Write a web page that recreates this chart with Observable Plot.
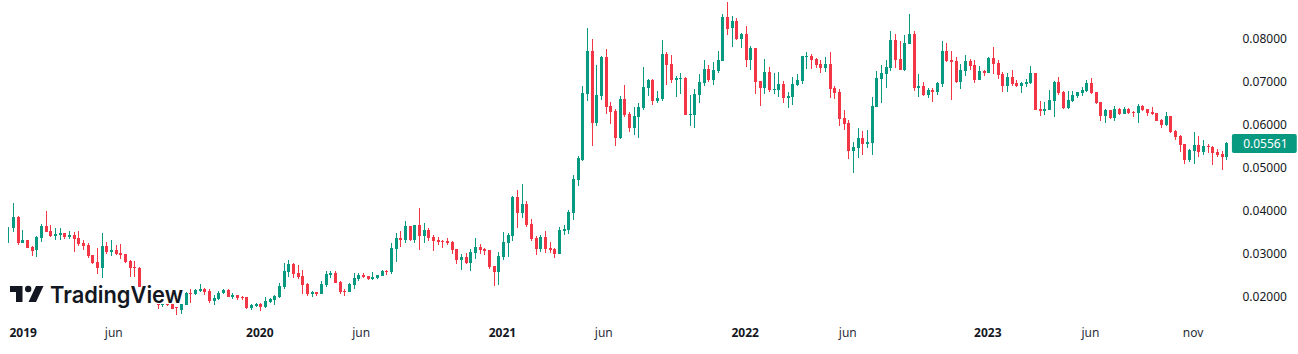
<!DOCTYPE html>
<html>
<head>
<meta charset="utf-8">
<style>html,body{margin:0;padding:0;background:#fff}svg{display:block}</style>
<script src="https://cdn.jsdelivr.net/npm/d3@7"></script>
<script src="https://cdn.jsdelivr.net/npm/@observablehq/plot@0.6"></script>
</head>
<body>
<div id="chart"></div>
<script>
// Weekly candles, prices in units of 0.00001
const openE5 = [
3419,3581,3837,3233,3302,3140,3070,3349,3628,3512,
3395,3419,3465,3372,3419,3349,3233,3186,2954,2791,
2651,3163,3023,3070,3000,2977,2814,2675,2651,2140,
2024,1977,1907,1791,1838,1814,1745,1675,1791,2070,
2047,2117,2163,2117,1884,1931,2070,2140,1977,2024,
1977,1977,1721,1768,1814,1745,1861,1907,1977,2210,
2558,2744,2535,2465,2279,2047,2093,2047,2256,2489,
2535,2326,2117,2093,2256,2396,2489,2465,2396,2419,
2465,2582,2558,3093,3349,3302,3628,3302,3651,3395,
3535,3372,3302,3279,3279,3256,3093,2837,2907,2768,
3000,3140,3093,3070,2698,2558,2907,3233,3395,4302,
3930,4139,3674,3349,3093,3372,3116,3093,2977,3512,
3535,3930,4698,5163,6698,7698,6023,6651,7558,6419,
6302,5674,6581,6233,5907,6163,6372,6837,7023,6535,
6581,7628,7395,7023,7047,7070,6209,6209,6674,6953,
7279,7023,7233,7465,8488,8233,8395,7977,8093,7488,
7767,7000,6837,7209,6791,6791,6930,6605,6628,6907,
7000,7558,7581,7512,7395,7302,7395,6837,6744,6140,
6023,5372,5442,5674,5535,5558,6395,7047,7163,7302,
7953,7512,7256,7860,8093,6837,6884,6674,6791,6744,
6930,7698,7488,7465,6977,7233,7465,7372,7023,7233,
7186,7535,7419,7163,6884,7093,6953,6884,6930,6953,
7186,6349,6302,6326,6535,6977,6744,6372,6535,6651,
6721,6767,6953,6744,6512,6186,6326,6140,6349,6233,
6349,6279,6256,6419,6349,6279,6256,6093,5977,6186,
5837,5721,5535,5163,5372,5512,5349,5488,5465,5349,
5302,5233];
const highE5 = [
3605,4163,3860,3535,3302,3163,3395,3674,3977,3651,
3581,3581,3465,3512,3488,3512,3302,3233,2954,3116,
3465,3256,3302,3186,3209,2977,2837,2814,2675,2163,
2093,2186,1954,1861,1861,1814,1745,1838,2093,2163,
2163,2279,2186,2163,2024,2117,2163,2163,2070,2024,
2000,1977,1814,1838,1838,1977,1954,2024,2303,2768,
2837,2768,2721,2605,2303,2117,2093,2349,2582,2582,
2582,2349,2163,2303,2535,2535,2535,2465,2558,2489,
2605,2605,3233,3465,3512,3744,3628,3651,4046,3698,
3581,3419,3372,3302,3349,3279,3093,2977,3000,3093,
3349,3209,3116,3070,2698,3023,3488,3465,4325,4465,
4605,4209,3791,3395,3419,3512,3256,3116,3605,3651,
4000,4814,5256,6884,8233,7977,7372,7581,7744,6512,
6349,6651,6907,6279,6395,6488,7326,7047,7047,6767,
7953,7674,7605,7116,7186,7093,6674,6814,7163,7488,
7372,7442,7698,8558,8837,8512,8465,8116,8279,7814,
7767,7000,7512,7326,7186,7209,7000,6744,7093,7163,
7581,7674,7628,7535,7488,7558,7674,6884,6814,6326,
6093,5581,5907,5837,5860,6628,7233,7372,7488,8163,
8093,7930,8070,8558,8163,7163,6977,6837,6837,6977,
7930,7884,7698,7558,7395,7605,7512,7488,7349,7256,
7558,7791,7488,7209,7186,7256,7023,6977,7047,7349,
7186,6535,6512,6791,7000,7093,6767,6767,6767,6744,
6860,7023,7070,6744,6512,6349,6326,6419,6372,6395,
6372,6302,6465,6442,6349,6395,6256,6116,6279,6186,
5860,5744,5535,5419,5814,5721,5628,5535,5488,5419,
5372,5581];
const lowE5 = [
3233,3488,3186,3233,3116,2930,2907,3256,3488,3372,
3302,3302,3326,3326,3023,3163,3070,2884,2744,2512,
2419,2977,2930,2954,2861,2768,2442,2442,2070,1954,
1907,1861,1698,1745,1768,1698,1559,1582,1791,1838,
2024,2093,2024,1838,1791,1907,2047,1977,1931,1907,
1907,1698,1675,1745,1652,1721,1838,1791,1954,2163,
2442,2419,2396,2047,2000,1977,2000,2047,2210,2419,
2303,2047,2000,2093,2163,2349,2419,2372,2372,2396,
2465,2489,2512,2791,3140,3233,3279,3233,3070,3233,
3279,3047,3186,3116,3186,2977,2744,2605,2744,2582,
2861,2977,2954,2628,2233,2256,2837,2907,3279,3581,
3814,3605,3279,2954,3023,3000,3000,2884,2977,3419,
3442,3767,4558,5140,6535,5488,5953,6558,6233,6000,
5488,5651,6163,5814,5744,5674,6326,6651,6442,6488,
6535,6907,6953,6628,6698,6209,5953,5907,6488,6884,
6977,6907,7186,7465,8070,7791,7953,7767,7326,7256,
6698,6419,6698,6744,6698,6628,6488,6372,6442,6884,
6930,7279,7279,7302,7186,7209,6605,6581,5953,5860,
5186,4860,5209,5279,5442,5279,6395,6488,6837,7233,
7302,7256,7233,7860,6767,6628,6651,6605,6512,6674,
6860,7442,6558,6953,6814,7116,7256,6953,7023,7116,
7186,7163,7047,6744,6744,6884,6860,6721,6860,6930,
6326,6186,6209,6326,6163,6674,6349,6349,6512,6605,
6651,6744,6698,6465,6070,6023,6116,6070,6209,6233,
6233,6163,6023,6302,6186,6209,6070,5907,5953,5791,
5628,5349,5070,5116,5070,5233,5279,5326,5047,5233,
4930,5163];
const closeE5 = [
3419,3837,3233,3302,3116,3047,3372,3628,3488,3395,
3442,3465,3372,3419,3326,3209,3163,2930,2768,2651,
3163,3023,3070,2977,2954,2791,2651,2651,2140,2000,
1954,1907,1791,1838,1791,1698,1721,1814,2070,2047,
2140,2163,2093,1884,1954,2070,2140,1977,2024,1954,
1954,1721,1791,1814,1745,1884,1931,2000,2233,2582,
2744,2512,2442,2256,2047,2093,2047,2279,2512,2535,
2303,2093,2093,2279,2419,2489,2442,2396,2442,2489,
2582,2558,3116,3349,3302,3628,3302,3651,3395,3535,
3349,3279,3256,3256,3233,3070,2837,2907,2768,3023,
3140,3070,3047,2675,2558,2930,3256,3419,4302,3930,
4139,3651,3326,3093,3372,3093,3070,2977,3535,3558,
3953,4721,5209,6721,7698,6023,6674,7558,6395,6279,
5674,6581,6209,5907,6186,6395,6860,7023,6535,6605,
7628,7372,7023,7070,7070,6209,6233,6698,6977,7279,
7023,7256,7488,8488,8209,8395,7977,8093,7488,7767,
6977,6837,7209,6791,6814,6930,6605,6651,6930,7023,
7581,7581,7488,7372,7302,7395,6814,6721,6116,6000,
5372,5465,5674,5535,5581,6419,7070,7186,7326,7953,
7488,7256,7884,8093,6837,6884,6674,6791,6744,6953,
7698,7465,7442,6977,7256,7465,7349,7023,7233,7186,
7535,7395,7140,6884,7093,6930,6884,6953,6977,7186,
6326,6302,6349,6558,6977,6721,6372,6558,6674,6744,
6791,6953,6721,6488,6186,6326,6140,6349,6233,6349,
6256,6256,6419,6326,6256,6233,6070,5977,6186,5814,
5698,5512,5163,5395,5512,5349,5488,5465,5326,5279,
5233,5561];

const yTicks = [0.02, 0.03, 0.04, 0.05, 0.06, 0.07, 0.08];
const yearTicks = ["2019-01-16", "2020-01-06", "2021-01-04", "2022-01-03", "2023-01-02"].map(d => new Date(d));
const monthTicks = ["2019-06-01", "2020-06-06", "2021-06-05", "2022-06-06", "2023-06-05", "2023-11-06"].map(d => new Date(d));

const GREEN = "#089981", RED = "#F23645", INK = "#131722";
const firstWeek = new Date("2018-12-24");
const weekMs = 7 * 864e5;
const at = w => new Date(+firstWeek + w * weekMs);

const candles = openE5.map((o, i) => ({
  date: at(i), open: o / 1e5, high: highE5[i] / 1e5, low: lowE5[i] / 1e5, close: closeE5[i] / 1e5,
  up: closeE5[i] >= o
}));
const last = candles[candles.length - 1];
const colorOf = d => d.up ? GREEN : RED;

const chart = Plot.plot({
  width: 1298, height: 354,
  marginLeft: 0, marginRight: 65, marginTop: 0, marginBottom: 27,
  style: {fontFamily: "'Noto Sans', sans-serif", fontSize: "12px", background: "#fff", color: INK},
  x: {type: "utc", domain: [at(0), at(261)], range: [8.3, 1226.3]},
  y: {type: "linear", domain: [0.02, 0.08], range: [296, 38]},
  marks: [
    Plot.ruleX(candles, {x: "date", y1: "low", y2: "high", stroke: colorOf, strokeWidth: 1, shapeRendering: "crispEdges"}),
    Plot.ruleX(candles, {x: "date", y1: "open", y2: "close", stroke: colorOf, strokeWidth: 3, shapeRendering: "crispEdges"}),
    Plot.axisY(yTicks, {anchor: "right", tickSize: 0, tickPadding: 9, dy: 1, tickFormat: d => d.toFixed(5), label: null, fill: INK, fontSize: 12}),
    Plot.axisX(yearTicks, {anchor: "bottom", tickSize: 0, tickPadding: 1, dx: -1, tickFormat: d => d3.utcFormat("%Y")(d), label: null, fontWeight: 700, fill: INK, fontSize: 12}),
    Plot.axisX(monthTicks, {anchor: "bottom", tickSize: 0, tickPadding: 1, dx: -1, tickFormat: d => d3.utcFormat("%b")(d).toLowerCase(), label: null, fill: "#2a2e39", fontSize: 12}),
    Plot.rect([last], {x1: () => at(262.2), x2: () => at(276.1), y1: d => d.close - 0.00235, y2: d => d.close + 0.00207, fill: GREEN, r: 2, clip: false}),
    Plot.text([last], {x: () => at(264.5), y: "close", text: d => d.close.toFixed(5), textAnchor: "start", fill: "#fff", fontSize: 12, dy: 1})
  ]
});

// TradingView watermark, on top of the candles it covers
const svg = d3.select(chart);
const logo = svg.append("g").attr("class", "logo");
logo.append("rect").attr("x", 8).attr("y", 287).attr("width", 175).attr("height", 17).attr("fill", "#fff");
logo.append("path").attr("fill", INK).attr("d", "M10 286H22.5V302H16V292H10Z M36 286H43.5L36 302H28.5Z");
logo.append("circle").attr("cx", 28.2).attr("cy", 289).attr("r", 3.2).attr("fill", INK);
logo.append("text").attr("x", 50).attr("y", 303).attr("text-anchor", "start").text("TradingView")
  .attr("textLength", 133).attr("lengthAdjust", "spacingAndGlyphs")
  .style("font", "600 23px Inter, sans-serif").attr("fill", INK);
document.getElementById("chart").append(chart);
</script>
</body>
</html>
